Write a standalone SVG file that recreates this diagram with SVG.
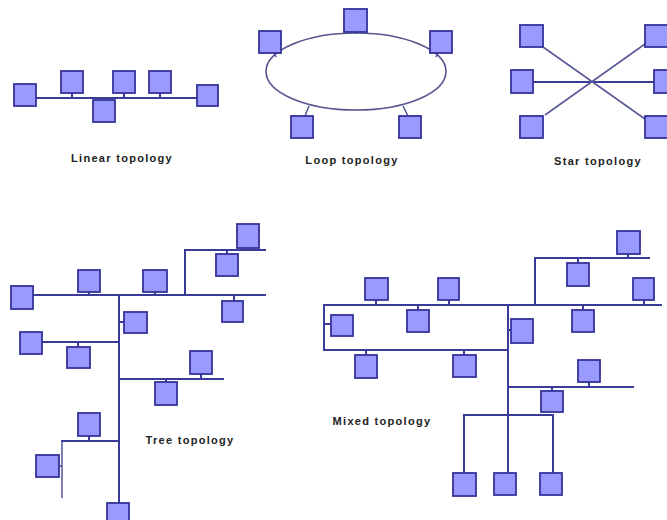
<svg xmlns="http://www.w3.org/2000/svg" width="667" height="520" viewBox="0 0 667 520">
  <style>
    .node rect { fill: #9999ff; stroke: #333399; stroke-width: 1.8; }
    .bus { stroke: #3a3a99; stroke-width: 2; fill: none; stroke-linecap: square; }
    .thin { stroke: #4a4a99; stroke-width: 1.4; fill: none; }
    .ring { stroke: #55558f; stroke-width: 1.6; fill: none; }
    .diag { stroke: #5a5a99; stroke-width: 1.6; fill: none; }
    .label { font-family: "Liberation Sans", Arial, sans-serif; font-size: 11px; font-weight: bold; fill: #222; letter-spacing: 1.3px; text-anchor: middle; }
  </style>
  <rect width="667" height="520" fill="#ffffff"/>

  <!-- connectors -->
  <g id="connectors">
    <!-- linear bus -->
    <path class="bus" d="M36 98 H197 M72 93 V98 M104 98 V100 M124 93 V98 M160 93 V98"/>
    <!-- loop ring -->
    <ellipse class="ring" cx="356" cy="71.5" rx="90" ry="38.5"/>
    <path class="thin" d="M356 32 V34 M274 53 L276 57 M438 53 L436 57 M309 106 L305 116 M403 106 L408 116"/>
    <!-- star -->
    <path class="bus" d="M533 82 H655"/>
    <path class="diag" d="M543 47 L645 119 M545 115 L645 44"/>
    <!-- tree -->
    <path class="bus" d="M33 295 H265 M119 295 V503 M185 295 V250 H265 M89 292 V295 M155 292 V295 M248 248 V250 M227 250 V254 M234 295 V301 M119 322 H124 M41 342 H119 M78 342 V347 M119 379 H223 M201 374 V379 M166 379 V382 M62 441 H119 M89 436 V441"/>
    <path class="thin" d="M62 441 V498 M59 466 H62"/>
    <!-- mixed -->
    <path class="bus" d="M324 305 H661 M324 305 V350 H508 M508 305 V473 M535 305 V258 H649 M376 300 V305 M449 300 V305 M418 305 V310 M324 324 H331 M366 350 V355 M464 350 V355 M508 330 H511 M628 254 V258 M578 258 V263 M644 300 V305 M583 305 V310 M508 387 H633 M589 382 V387 M552 387 V391 M464 473 V415 H553 V473"/>
  </g>

  <!-- linear topology -->
  <g id="linear-1" class="node"><rect x="14" y="84" width="22" height="22"/></g>
  <g id="linear-2" class="node"><rect x="61" y="71" width="22" height="22"/></g>
  <g id="linear-3" class="node"><rect x="93" y="100" width="22" height="22"/></g>
  <g id="linear-4" class="node"><rect x="113" y="71" width="22" height="22"/></g>
  <g id="linear-5" class="node"><rect x="149" y="71" width="22" height="22"/></g>
  <g id="linear-6" class="node"><rect x="197" y="85" width="21" height="21"/></g>
  <text class="label" x="122" y="162">Linear topology</text>

  <!-- loop topology -->
  <g id="loop-1" class="node"><rect x="344" y="9" width="23" height="23"/></g>
  <g id="loop-2" class="node"><rect x="259" y="31" width="22" height="22"/></g>
  <g id="loop-3" class="node"><rect x="430" y="31" width="22" height="22"/></g>
  <g id="loop-4" class="node"><rect x="291" y="116" width="22" height="22"/></g>
  <g id="loop-5" class="node"><rect x="399" y="116" width="22" height="22"/></g>
  <text class="label" x="352" y="164">Loop topology</text>

  <!-- star topology -->
  <g id="star-1" class="node"><rect x="520" y="25" width="23" height="22"/></g>
  <g id="star-2" class="node"><rect x="645" y="25" width="23" height="22"/></g>
  <g id="star-3" class="node"><rect x="511" y="70" width="22" height="23"/></g>
  <g id="star-4" class="node"><rect x="654" y="70" width="22" height="23"/></g>
  <g id="star-5" class="node"><rect x="520" y="116" width="23" height="22"/></g>
  <g id="star-6" class="node"><rect x="645" y="116" width="23" height="22"/></g>
  <text class="label" x="598" y="165">Star topology</text>

  <!-- tree topology -->
  <g id="tree-1" class="node"><rect x="11" y="286" width="22" height="23"/></g>
  <g id="tree-2" class="node"><rect x="78" y="270" width="22" height="22"/></g>
  <g id="tree-3" class="node"><rect x="143" y="270" width="24" height="22"/></g>
  <g id="tree-4" class="node"><rect x="237" y="224" width="22" height="24"/></g>
  <g id="tree-5" class="node"><rect x="216" y="254" width="22" height="22"/></g>
  <g id="tree-6" class="node"><rect x="222" y="301" width="21" height="21"/></g>
  <g id="tree-7" class="node"><rect x="124" y="312" width="23" height="21"/></g>
  <g id="tree-8" class="node"><rect x="20" y="332" width="22" height="22"/></g>
  <g id="tree-9" class="node"><rect x="67" y="347" width="23" height="21"/></g>
  <g id="tree-10" class="node"><rect x="190" y="351" width="22" height="23"/></g>
  <g id="tree-11" class="node"><rect x="155" y="382" width="22" height="23"/></g>
  <g id="tree-12" class="node"><rect x="78" y="413" width="22" height="23"/></g>
  <g id="tree-13" class="node"><rect x="36" y="455" width="23" height="22"/></g>
  <g id="tree-14" class="node"><rect x="107" y="503" width="22" height="22"/></g>
  <text class="label" x="190" y="444">Tree topology</text>

  <!-- mixed topology -->
  <g id="mixed-1" class="node"><rect x="365" y="278" width="23" height="22"/></g>
  <g id="mixed-2" class="node"><rect x="438" y="278" width="21" height="22"/></g>
  <g id="mixed-3" class="node"><rect x="407" y="310" width="22" height="22"/></g>
  <g id="mixed-4" class="node"><rect x="331" y="315" width="22" height="21"/></g>
  <g id="mixed-5" class="node"><rect x="355" y="355" width="22" height="23"/></g>
  <g id="mixed-6" class="node"><rect x="453" y="355" width="23" height="22"/></g>
  <g id="mixed-7" class="node"><rect x="511" y="319" width="22" height="24"/></g>
  <g id="mixed-8" class="node"><rect x="617" y="231" width="23" height="23"/></g>
  <g id="mixed-9" class="node"><rect x="567" y="263" width="22" height="23"/></g>
  <g id="mixed-10" class="node"><rect x="633" y="278" width="21" height="22"/></g>
  <g id="mixed-11" class="node"><rect x="572" y="310" width="22" height="22"/></g>
  <g id="mixed-12" class="node"><rect x="578" y="360" width="22" height="22"/></g>
  <g id="mixed-13" class="node"><rect x="541" y="391" width="22" height="21"/></g>
  <g id="mixed-14" class="node"><rect x="453" y="473" width="23" height="23"/></g>
  <g id="mixed-15" class="node"><rect x="494" y="473" width="22" height="22"/></g>
  <g id="mixed-16" class="node"><rect x="540" y="473" width="22" height="22"/></g>
  <text class="label" x="382" y="425">Mixed topology</text>
</svg>
